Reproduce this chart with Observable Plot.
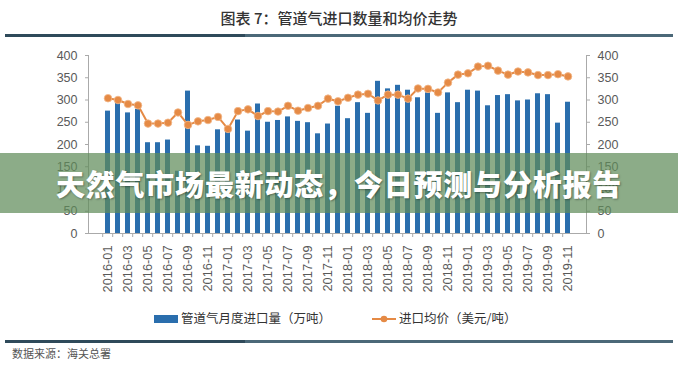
<!DOCTYPE html>
<html><head><meta charset="utf-8">
<script src="https://cdn.jsdelivr.net/npm/d3@7"></script>
<script src="https://cdn.jsdelivr.net/npm/@observablehq/plot@0.6"></script>
<style>
body{margin:0;background:#fff;font-family:"Noto Sans CJK SC","Liberation Sans",sans-serif;}
#wrap{position:relative;width:678px;height:367px;overflow:hidden;background:#fff;}
#title{position:absolute;top:7px;left:0;width:678px;text-align:center;font-size:15px;color:#333;font-weight:500;}
.sep{position:absolute;left:5px;width:668px;height:3px;background:linear-gradient(to right,#2f4a5a 0%,#2f4a5a 36%,#4b6878 36%,#4b6878 100%);}
#chart{position:absolute;top:0;left:0;}
#legend{position:absolute;top:311px;left:0;width:678px;font-size:12.5px;color:#333;}
#source{position:absolute;top:345px;left:12px;font-size:11px;color:#555;}
#banner{position:absolute;top:153px;left:0;width:678px;height:60px;background:rgba(95,140,90,0.72);}
#banner div{position:absolute;top:0;left:0;width:678px;line-height:60px;text-align:center;color:#fff;font-size:29px;font-weight:900;text-shadow:1px 1px 2px rgba(0,0,0,0.35);letter-spacing:0.8px;}
</style></head>
<body>
<div id="wrap">
  <div id="title">图表 7：管道气进口数量和均价走势</div>
  <div class="sep" style="top:34px"></div>
  <div id="chart"></div>
  <div id="legend"></div>
  <div class="sep" style="top:340px"></div>
  <div id="source">数据来源：海关总署</div>
  <div id="banner"><div>天然气市场最新动态，今日预测与分析报告</div></div>
</div>
<script>
const months = [
  "2016-01","2016-02","2016-03","2016-04","2016-05","2016-06","2016-07","2016-08","2016-09","2016-10","2016-11","2016-12",
  "2017-01","2017-02","2017-03","2017-04","2017-05","2017-06","2017-07","2017-08","2017-09","2017-10","2017-11","2017-12",
  "2018-01","2018-02","2018-03","2018-04","2018-05","2018-06","2018-07","2018-08","2018-09","2018-10","2018-11","2018-12",
  "2019-01","2019-02","2019-03","2019-04","2019-05","2019-06","2019-07","2019-08","2019-09","2019-10","2019-11"
];
const volume = [
  275,294,271,279,204,204,210,140,320,197,196,233,
  230,255,230,291,250,254,262,252,249,224,246,286,
  258,294,270,342,325,333,322,305,316,270,316,294,
  322,320,287,310,312,298,300,314,312,248,295
];
const price = [
  304,300,291,288,247,247,249,272,244,252,255,262,
  235,275,279,264,275,274,287,276,282,287,303,297,
  305,312,314,299,312,312,303,326,325,317,339,357,
  360,375,377,366,357,364,362,356,356,358,353
];
const yTicks = [0,50,100,150,200,250,300,350,400];
const seriesNames = ["管道气月度进口量（万吨）","进口均价（美元/吨）"];
const barColor = "#2a6ead", lineColor = "#e58a45", axisColor = "#595959";

const data = months.map((m,i)=>({month:m, volume:volume[i], price:price[i]}));
const labelTicks = months.filter((m,i)=>i%2===0);

const W = 678, H = 300, mL = 88, mR = 92, mT = 55, mB = 67;
const step = (W - mL - mR) / months.length;

const chart = Plot.plot({
  width: W, height: H,
  marginLeft: mL, marginRight: mR, marginTop: mT, marginBottom: mB,
  style: {fontFamily: "'Liberation Sans', Arial, sans-serif", fontSize: "12px", color: axisColor, background: "transparent"},
  x: {type: "band", domain: months, paddingInner: 0.55, paddingOuter: 0.275, align: 0.5},
  y: {domain: [0, 400]},
  marks: [
    Plot.barY(data, {x: "month", y: "volume", fill: barColor}),
    Plot.ruleY([0], {stroke: "#aaa"}),
    Plot.frame({anchor: "left", stroke: "#aaa"}),
    Plot.frame({anchor: "right", stroke: "#aaa"}),
    Plot.axisY({anchor: "left", ticks: yTicks, tickSize: 3, tickPadding: 8, stroke: "#aaa", fill: axisColor, fontSize: 12.5, label: null}),
    Plot.axisY({anchor: "right", ticks: yTicks, tickSize: 3, tickPadding: 8, stroke: "#aaa", fill: axisColor, fontSize: 12.5, label: null}),
    Plot.axisX({ticks: months, tickSize: 4, tickFormat: () => "", dx: -step/2, stroke: "#aaa", label: null}),
    Plot.axisX({ticks: labelTicks, tickSize: 0, tickPadding: 12, tickRotate: -90, fill: axisColor, fontSize: 12.8, label: null}),
    Plot.line(data, {x: "month", y: "price", stroke: lineColor, strokeWidth: 2}),
    Plot.dot(data, {x: "month", y: "price", r: 3.8, fill: lineColor, stroke: "#f3b98c", strokeWidth: 0.8})
  ]
});
document.getElementById("chart").appendChild(chart);

// legend
const lg = document.getElementById("legend");
lg.innerHTML = `
<div style="position:absolute;left:154px;top:4px;width:24px;height:8px;background:${barColor}"></div>
<div style="position:absolute;left:181px;top:-3px;white-space:nowrap">${seriesNames[0]}</div>
<svg style="position:absolute;left:372px;top:2px" width="24" height="12"><line x1="0" y1="6" x2="24" y2="6" stroke="${lineColor}" stroke-width="2"/><circle cx="12" cy="6" r="3.3" fill="${lineColor}"/></svg>
<div style="position:absolute;left:399px;top:-3px;white-space:nowrap">${seriesNames[1]}</div>`;
</script>
</body></html>
